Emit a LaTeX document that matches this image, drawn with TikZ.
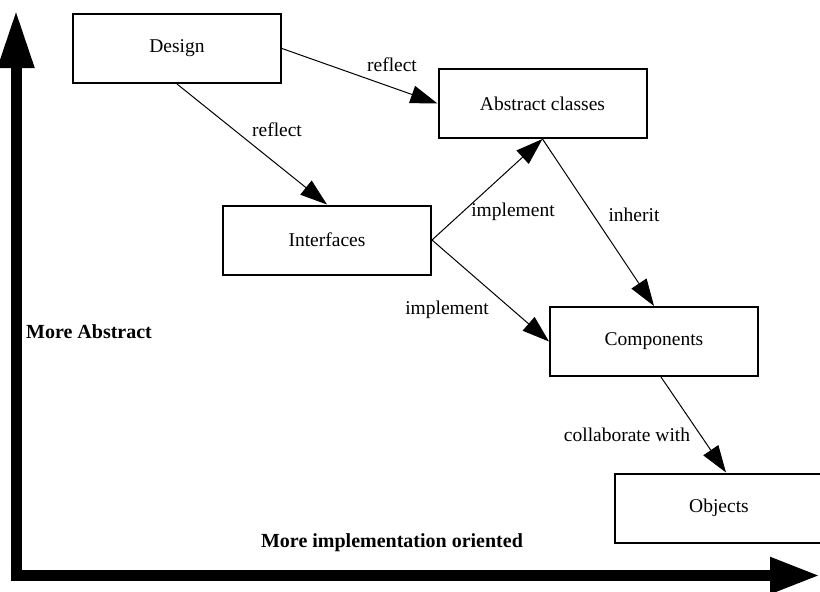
\documentclass[tikz,border=0pt]{standalone}
\usepackage{fontspec}
\setmainfont{Liberation Serif}
\usetikzlibrary{arrows.meta}
\begin{document}
\begin{tikzpicture}[x=1pt,y=-1pt,
  box/.style={draw,line width=2pt,minimum width=208pt,minimum height=69pt,
    inner sep=0pt,font=\fontsize{19.5}{23}\selectfont},
  link/.style={line width=1pt,-{Triangle[length=27pt,width=18pt]}},
  lbl/.style={font=\fontsize{19.5}{23}\selectfont,inner sep=0pt},
  axislbl/.style={font=\fontsize{20}{24}\selectfont\bfseries,inner sep=0pt},
  vaxis/.style={line width=11pt,-{Triangle[length=58pt,width=34pt]}},
  haxis/.style={line width=11pt,-{Triangle[length=50pt,width=34pt]}}]
\useasboundingbox (0,0) rectangle (820,592);
\clip (0,0) rectangle (820,592);

% boxes
\node[box] (design)     at (177,48.5)   {Design};
\node[box] (abstract)   at (542.5,103.5) {Abstract classes};
\node[box] (interfaces) at (327,240)    {Interfaces};
\node[box] (components) at (654,341.5)  {Components};
\node[box] (objects)    at (719,508)    {Objects};

% relations
\draw[link] (design.east) -- (abstract.west);
\draw[link] (design.south) -- (interfaces.north);
\draw[link] (interfaces.east) -- (abstract.south);
\draw[link] (interfaces.east) -- (components.west);
\draw[link] (abstract.south) -- (components.north);
\draw[link] ([xshift=7pt]components.south) -- ([xshift=7pt]objects.north);

% relation labels
\node[lbl] (l1) at (392,65)  {reflect};
\node[lbl] (l2) at (277,130) {reflect};
\node[lbl] (l3) at (513,212) {implement};
\node[lbl] (l4) at (634,215) {inherit};
\node[lbl] (l5) at (447,310) {implement};
\node[lbl] (l6) at (627,435) {collaborate with};

% axes
\coordinate (vbottom) at (16,581);
\coordinate (vtop)    at (16,10);
\coordinate (hleft)   at (10.5,575.5);
\coordinate (hright)  at (820,575.5);
\draw[vaxis] (vbottom) -- (vtop);
\draw[haxis] (hleft) -- (hright);

\node[axislbl,anchor=west] (ya) at (26,332) {More Abstract};
\node[axislbl,anchor=base] (xa) at (392,547) {More implementation oriented};
\end{tikzpicture}
\end{document}
